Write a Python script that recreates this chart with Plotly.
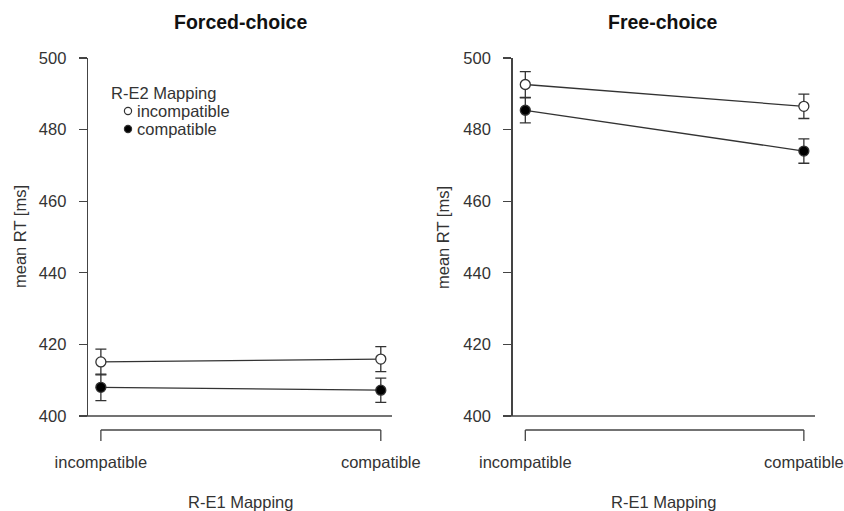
import plotly.graph_objects as go

# ---- data ----
x_levels = ["incompatible", "compatible"]          # R-E1 Mapping
panels = ["Forced-choice", "Free-choice"]
series_names = ["incompatible", "compatible"]       # R-E2 Mapping

forced_incomp = [415.1, 415.9]
forced_incomp_err = [3.6, 3.5]
forced_comp = [408.0, 407.2]
forced_comp_err = [3.7, 3.4]

free_incomp = [492.6, 486.5]
free_incomp_err = [3.6, 3.4]
free_comp = [485.4, 474.0]
free_comp_err = [3.5, 3.4]

y_ticks = [400, 420, 440, 460, 480, 500]

# ---- layout helpers (pixel geometry) ----
W, H = 844, 511
def px(x):
    return x / W
def py(y):
    return 1 - y / H

INK = "#333333"
AX = "#444444"
FONT = "Liberation Sans, Arial, sans-serif"
FS = 16.5

xnum = [1, 2]
fig = go.Figure()

def add_panel(xa, ya, vals_open, err_open, vals_fill, err_fill):
    for vals, errs, fill in [(vals_fill, err_fill, True), (vals_open, err_open, False)]:
        fig.add_trace(go.Scatter(
            x=xnum, y=vals, xaxis=xa, yaxis=ya, mode="lines+markers",
            line=dict(color=INK, width=1.3),
            marker=dict(size=10, symbol="circle",
                        color="black" if fill else "white",
                        line=dict(color=INK, width=1.3)),
            error_y=dict(type="data", array=errs, visible=True,
                         color=INK, thickness=1.3, width=5.5),
            showlegend=False, hoverinfo="skip", cliponaxis=False))

add_panel("x", "y", forced_incomp, forced_incomp_err, forced_comp, forced_comp_err)
add_panel("x2", "y2", free_incomp, free_incomp_err, free_comp, free_comp_err)

xdoms = [[px(88), px(392)], [px(512.5), px(815)]]
ydom = [py(416), py(58)]
xrange_ = [0.954, 2.04]

axis_common_x = dict(range=xrange_, tickvals=xnum, ticktext=x_levels,
                     showline=False, showgrid=False, zeroline=False, ticks="",
                     ticklabelstandoff=34, automargin=False,
                     tickfont=dict(family=FONT, size=FS, color=INK))
axis_common_y = dict(range=[400, 500], tickvals=y_ticks, showline=True,
                     linecolor=AX, linewidth=1.3, ticks="outside", ticklen=8,
                     tickwidth=1.3, tickcolor=AX, showgrid=False, zeroline=False,
                     ticklabelstandoff=9, domain=ydom, automargin=False,
                     tickfont=dict(family=FONT, size=FS, color=INK))

fig.update_layout(
    width=W, height=H, margin=dict(l=0, r=0, t=0, b=0, autoexpand=False),
    paper_bgcolor="white", plot_bgcolor="white",
    xaxis=dict(domain=xdoms[0], anchor="y", **axis_common_x),
    yaxis=dict(anchor="x", **axis_common_y),
    xaxis2=dict(domain=xdoms[1], anchor="y2", **axis_common_x),
    yaxis2=dict(anchor="x2", **axis_common_y),
)

shapes = []
annotations = []
hline_spans = [(80, 392), (503, 815)]
title_cx = [240, 663]
ytitle_cx = [20, 443]
for i, (xa, ya) in enumerate([("x", "y"), ("x2", "y2")]):
    # horizontal baseline at the bottom of the plotting region
    shapes.append(dict(type="line", xref="paper", yref="paper",
                       x0=px(hline_spans[i][0]), x1=px(hline_spans[i][1]),
                       y0=ydom[0], y1=ydom[0],
                       line=dict(color=AX, width=1.3)))
    # R-style x axis bracket
    shapes.append(dict(type="line", xref=xa, yref="paper", x0=xnum[0], x1=xnum[-1],
                       y0=py(430), y1=py(430), line=dict(color=AX, width=1.3)))
    for xv in xnum:
        shapes.append(dict(type="line", xref=xa, yref="paper", x0=xv, x1=xv,
                           y0=py(430), y1=py(441), line=dict(color=AX, width=1.3)))
    annotations.append(dict(text="<b>%s</b>" % panels[i], xref="paper", yref="paper",
                            x=px(title_cx[i]), y=py(22), showarrow=False,
                            xanchor="center", yanchor="middle",
                            font=dict(family=FONT, size=19.5, color="#111111")))
    annotations.append(dict(text="R-E1 Mapping", xref="paper", yref="paper",
                            x=px(title_cx[i]), y=py(502), showarrow=False,
                            xanchor="center", yanchor="middle",
                            font=dict(family=FONT, size=FS, color=INK)))
    annotations.append(dict(text="mean RT [ms]", xref="paper", yref="paper",
                            x=px(ytitle_cx[i]), y=py(237), showarrow=False,
                            textangle=-90, xanchor="center", yanchor="middle",
                            font=dict(family=FONT, size=FS, color=INK)))

# legend (left panel)
annotations.append(dict(text="R-E2 Mapping", xref="paper", yref="paper",
                        x=px(109), y=py(93), showarrow=False, xanchor="left",
                        yanchor="middle", font=dict(family=FONT, size=FS, color=INK)))
leg_y = [111, 129]
for name, yy, fill in zip(series_names, leg_y, [False, True]):
    r = 3.6
    shapes.append(dict(type="circle", xref="paper", yref="paper",
                       x0=px(128 - r), x1=px(128 + r), y0=py(yy + r), y1=py(yy - r),
                       fillcolor="black" if fill else "white",
                       line=dict(color=INK, width=1.2)))
    annotations.append(dict(text=name, xref="paper", yref="paper",
                            x=px(135), y=py(yy), showarrow=False, xanchor="left",
                            yanchor="middle", font=dict(family=FONT, size=FS, color=INK)))

fig.update_layout(shapes=shapes, annotations=annotations)
fig.write_html("out.html",
               config={"displayModeBar": False, "staticPlot": True},
               post_script="document.body.style.margin='0';"
                           "document.body.style.overflow='hidden';")
